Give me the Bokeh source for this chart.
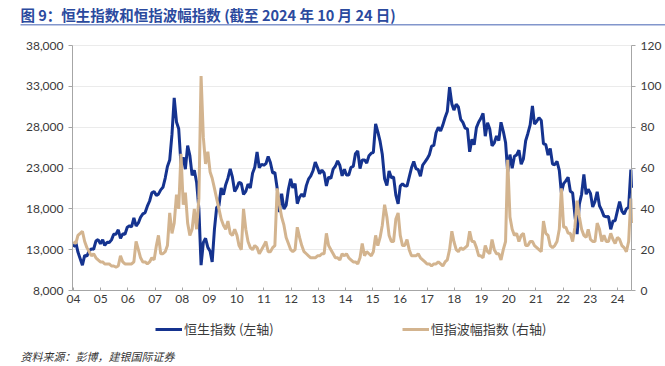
import pandas as pd
from bokeh.plotting import figure
from bokeh.models import (Range1d, LinearAxis, FixedTicker, NumeralTickFormatter,
                          CustomJSTickFormatter, Legend, LegendItem, Label, BoxAnnotation)
from bokeh.embed import file_html
from bokeh.resources import INLINE

# ---------------- data (monthly readings, Jan-2004 .. Oct-2024, then 24-Oct-2024) ----------------
first_month = "2004-01-01"
last_date = "2024-10-24"

hsi = [
    # 2004
    13300, 13900, 12700, 11900, 11100, 12300, 12200, 12850, 13100, 13050, 14050, 14230,
    # 2005
    13720, 14200, 13520, 13900, 13870, 14200, 14880, 14900, 15430, 14390, 14940, 14880,
    # 2006
    15750, 15920, 15800, 16900, 15900, 16270, 16970, 17390, 17540, 18320, 18960, 19960,
    # 2007
    20110, 19650, 19800, 20320, 20630, 21770, 23180, 23980, 27140, 31600, 28640, 27810,
    # 2008
    23460, 24330, 22850, 25750, 24530, 22100, 22730, 21260, 18020, 11100, 13890, 14390,
    # 2009
    13280, 12810, 11500, 15520, 18170, 18380, 20570, 19720, 20960, 21750, 22900, 21870,
    # 2010
    20120, 20610, 21240, 21110, 19770, 20130, 21030, 20540, 22360, 23100, 24960, 23040,
    # 2011
    23450, 23340, 23530, 24400, 23680, 22400, 22440, 20530, 17590, 19860, 17990, 18430,
    # 2012
    20390, 21680, 20560, 21090, 18630, 19440, 19800, 19480, 20840, 21640, 22030, 22660,
    # 2013
    23730, 23020, 22300, 22740, 22390, 20800, 21880, 21730, 22860, 23210, 23880, 23310,
    # 2014
    22040, 22840, 22150, 22130, 23080, 23190, 24760, 25100, 22930, 23990, 23990, 23610,
    # 2015
    24510, 24820, 24900, 28400, 27420, 26250, 24640, 21670, 20850, 22640, 21800, 21910,
    # 2016
    19680, 18600, 20780, 21070, 20820, 20790, 21890, 23020, 23800, 22930, 22790, 22000,
    # 2017
    23360, 23740, 24110, 24620, 25660, 25760, 27320, 27970, 27550, 28250, 29180, 29920,
    # 2018
    32900, 30840, 30090, 30810, 30470, 28960, 28580, 27890, 27790, 24980, 26510, 25850,
    # 2019
    27940, 28630, 29050, 29700, 26900, 28540, 27780, 25720, 26090, 26910, 26350, 28600,
    # 2020
    27500, 26130, 22500, 24640, 22960, 24430, 24600, 25180, 23460, 24110, 26340, 27230,
    # 2021
    28280, 30600, 28380, 28720, 29150, 28830, 25960, 25880, 24580, 25380, 23480, 23400,
    # 2022
    23800, 22710, 20000, 21090, 21420, 21860, 20160, 19950, 17220, 14900, 18600, 19780,
    # 2023
    22200, 19790, 20400, 19890, 18230, 18920, 20080, 18380, 17810, 17110, 17040, 17050,
    # 2024 (Jan..Oct, then 24-Oct)
    15490, 16510, 16540, 17760, 18900, 17720, 17340, 17990, 18200, 22800,
    20590,
]

vhsi = [
    # 2004
    24, 23, 27, 28, 29, 24, 21, 19, 17, 18, 16, 15,
    # 2005
    14, 14, 13, 13, 13, 12, 12, 11.5, 12, 17, 14, 13,
    # 2006
    13, 13, 13, 14, 24, 20, 16, 14, 14, 13, 14, 16,
    # 2007
    15, 22, 27, 18, 18, 19, 22, 38, 28, 33, 47, 40,
    # 2008
    67, 42, 48, 33, 27, 30, 40, 30, 45, 105, 75, 62,
    # 2009
    68, 58, 55, 50, 45, 40, 35, 32, 30, 34, 28, 27,
    # 2010
    30, 27, 22, 20, 40, 30, 24, 21, 20, 22, 21, 18,
    # 2011
    20, 22, 24, 19, 19, 21, 22, 50, 42, 36, 32, 26,
    # 2012
    23, 20, 19, 20, 31, 26, 22, 19, 18, 17, 16, 16,
    # 2013
    16, 17, 17, 18, 18, 28, 22, 20, 18, 16, 16, 15,
    # 2014
    18, 17, 18, 16, 15, 14, 14, 13, 16, 23, 17, 19,
    # 2015
    18, 17, 19, 27, 22, 26, 32, 42, 36, 27, 24, 24,
    # 2016
    35, 38, 27, 22, 22, 25, 20, 17, 17, 17, 18, 16,
    # 2017
    15, 14, 13, 13, 12, 13, 13, 14, 13, 12, 14, 15,
    # 2018
    20, 29, 24, 20, 19, 21, 20, 21, 22, 29, 24, 24,
    # 2019
    21, 17, 17, 16, 22, 19, 18, 25, 20, 18, 18, 15,
    # 2020
    20, 24, 64, 36, 30, 27, 28, 24, 27, 28, 22, 22,
    # 2021
    24, 24, 22, 21, 20, 19, 34, 28, 27, 22, 21, 22,
    # 2022
    24, 30, 50, 31, 31, 28, 28, 24, 31, 44, 36, 30,
    # 2023
    27, 26, 30, 25, 24, 24, 33, 30, 24, 27, 24, 24,
    # 2024 (Jan..Oct, then 24-Oct)
    28, 25, 23, 26, 25, 22, 21, 19, 24, 45,
    33,
]

x_labels = ["04", "05", "06", "07", "08", "09", "10", "11", "12", "13", "14",
            "15", "16", "17", "18", "19", "20", "21", "22", "23", "24"]

hsi_ticks = [8000, 13000, 18000, 23000, 28000, 33000, 38000]
vhsi_ticks = [0, 20, 40, 60, 80, 100, 120]

title_text = "图 9：恒生指数和恒指波幅指数 (截至 2024 年 10 月 24 日)"
hsi_name = "恒生指数 (左轴)"
vhsi_name = "恒指波幅指数 (右轴)"
source_text = "资料来源：彭博，建银国际证券"

# ---------------- positions ----------------
def frac_year(d):
    days = 366 if d.is_leap_year else 365
    return d.year + (d.dayofyear - 1) / days

month_dates = list(pd.date_range(first_month, periods=len(hsi) - 1, freq="MS") + pd.Timedelta(days=14))
dates = month_dates + [pd.Timestamp(last_date)]
xs = [frac_year(d) for d in dates]

x_start = 2004.0
x_end = frac_year(pd.Timestamp(last_date))
tick_step = 1.0127
tick_pos = [round(x_start + 0.037 + tick_step * i, 4) for i in range(len(x_labels))]

# ---------------- layout (pixels) ----------------
W, H = 665, 366
PL, PR, PT, PB = 72, 631, 45, 290          # plot area in canvas pixels
hsi_lo, hsi_hi = hsi_ticks[0], hsi_ticks[-1]
v_lo, v_hi = vhsi_ticks[0], vhsi_ticks[-1]

kx = (PR - PL) / (x_end - x_start)
ky = (PB - PT) / (hsi_hi - hsi_lo)
kv = (PB - PT) / (v_hi - v_lo)
x_rng = Range1d(x_start - PL / kx, x_end + (W - PR) / kx)
y_rng = Range1d(hsi_lo - (H - PB) / ky, hsi_hi + PT / ky)
v_rng = Range1d(v_lo - (H - PB) / kv, v_hi + PT / kv)

# ---------------- styling ----------------
BLUE = "#15338F"
TAN = "#D3B48F"
AXIS = "#A6A6A6"
GRID = "#EBEBEB"
RULE = "#8296CC"
TXT = "#3A3A3A"
TICK_FONT = "Lato"
CJK = "Noto Sans CJK SC"

p = figure(width=W, height=H, output_backend="svg", toolbar_location=None, title=None,
           x_range=x_rng, y_range=y_rng, min_border=0)
p.extra_y_ranges = {"vhsi": v_rng}
p.outline_line_color = None
p.grid.visible = False

# horizontal grid lines: long inward ticks of an unlabeled axis, drawn beneath the data
grid_axis = LinearAxis(ticker=FixedTicker(ticks=hsi_ticks), fixed_location=x_start,
                       formatter=CustomJSTickFormatter(code="return '';"),
                       axis_line_color=None, major_tick_line_color=GRID,
                       major_tick_in=PR - PL, major_tick_out=0, minor_tick_line_color=None,
                       level="underlay")
p.add_layout(grid_axis, "left")

r_hsi = p.line(xs, hsi, line_color=BLUE, line_width=3)
r_vhsi = p.line(xs, vhsi, line_color=TAN, line_width=3, y_range_name="vhsi")

xa = p.xaxis[0]
xa.fixed_location = hsi_lo
xa.bounds = (x_start, x_end)
xa.ticker = FixedTicker(ticks=tick_pos)
xa.formatter = CustomJSTickFormatter(args=dict(tpos=tick_pos, tlabels=x_labels), code="""
    for (let i = 0; i < tpos.length; i++) {
        if (Math.abs(tpos[i] - tick) < 1e-6) return tlabels[i];
    }
    return "";
""")
xa.major_tick_in = 3
xa.major_tick_out = 0
xa.major_label_standoff = 4

ya = p.yaxis[0]
ya.fixed_location = x_start
ya.bounds = (hsi_lo, hsi_hi)
ya.ticker = FixedTicker(ticks=hsi_ticks)
ya.formatter = NumeralTickFormatter(format="0,0")

ra = LinearAxis(y_range_name="vhsi", ticker=FixedTicker(ticks=vhsi_ticks),
                fixed_location=x_end, bounds=(v_lo, v_hi))
p.add_layout(ra, "right")

for ax in (ya, ra):
    ax.major_tick_in = 0
    ax.major_tick_out = 4
    ax.major_label_standoff = 5
for ax in (xa, ya, ra):
    ax.axis_line_color = AXIS
    ax.major_tick_line_color = AXIS
    ax.minor_tick_line_color = None
    ax.major_label_text_font = TICK_FONT
    ax.major_label_text_font_size = "12px"
    ax.major_label_text_color = TXT

# title + rule (screen units: x from left, y up from bottom of canvas)
p.add_layout(Label(x=20, y=H - 14, x_units="screen", y_units="screen", text=title_text,
                   text_font=CJK, text_font_size="14.5px", text_font_style="bold",
                   text_color="#2B4A9E", text_baseline="middle", text_align="left"))
p.add_layout(BoxAnnotation(left=20, right=W, bottom=H - 25, top=H - 23.5,
                           left_units="screen", right_units="screen",
                           bottom_units="screen", top_units="screen",
                           fill_color=RULE, fill_alpha=1, line_alpha=0, level="overlay"))

legend = Legend(items=[LegendItem(label=hsi_name, renderers=[r_hsi]),
                       LegendItem(label=vhsi_name, renderers=[r_vhsi])],
                location=(155 - 0, H - 338), orientation="horizontal",
                padding=0, margin=0, spacing=128, glyph_width=27, glyph_height=14,
                label_height=14, label_standoff=2,
                label_text_font=CJK, label_text_font_size="13px", label_text_color=TXT,
                border_line_alpha=0, background_fill_alpha=0)
p.add_layout(legend)

p.add_layout(Label(x=20, y=H - 355, x_units="screen", y_units="screen", text=source_text,
                   text_font=CJK, text_font_size="11px", text_font_style="italic",
                   text_color="#333333", text_baseline="middle", text_align="left"))

open("out.html", "w").write(file_html(p, INLINE))
